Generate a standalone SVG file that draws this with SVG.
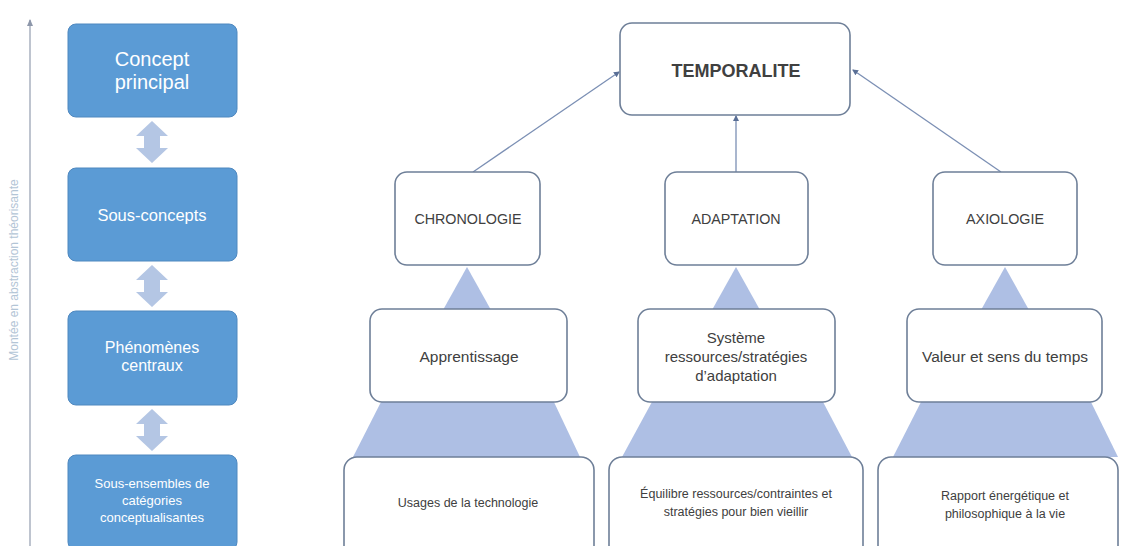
<svg xmlns="http://www.w3.org/2000/svg" width="1121" height="546" viewBox="0 0 1121 546">
<defs>
<style>
.bbox{fill:#5b9bd5;stroke:#4f88bf;stroke-width:1}
.wt{fill:#ffffff;font-family:"Liberation Sans",Arial,sans-serif;text-anchor:middle}
.node{fill:#ffffff;stroke:#6e7f98;stroke-width:1.6}
.tx{fill:#404040;font-family:"Liberation Sans",Arial,sans-serif;text-anchor:middle}
.tri{fill:#aebfe4}
.dbl{fill:#b4c6e4}
.conn{stroke:#7b8fb4;stroke-width:1.3;fill:none}
</style>
<marker id="ah" markerWidth="6" markerHeight="6" refX="5" refY="3" orient="auto" markerUnits="userSpaceOnUse">
<path d="M0,0 L6,3 L0,6 z" fill="#5a6f96"/>
</marker>
<marker id="ah2" markerWidth="8" markerHeight="8" refX="6" refY="4" orient="auto" markerUnits="userSpaceOnUse">
<path d="M0,1 L7,4 L0,7 z" fill="#8d97aa"/>
</marker>
</defs>
<rect width="1121" height="546" fill="#ffffff"/>

<g id="axis">
<line x1="30" y1="546" x2="30" y2="20" stroke="#a9b1bf" stroke-width="1.5" marker-end="url(#ah2)"/>
<text transform="translate(18,270) rotate(-90)" font-family="Liberation Sans,Arial,sans-serif" font-size="12" fill="#b3c5d6" text-anchor="middle">Montée en abstraction théorisante</text>
</g>

<g id="legend-arrows">
<path class="dbl" d="M152,121 L168,136 L160,136 L160,148 L168,148 L152,163 L136,148 L144,148 L144,136 L136,136 z"/>
<path class="dbl" d="M152,265 L168,280 L160,280 L160,292 L168,292 L152,307 L136,292 L144,292 L144,280 L136,280 z"/>
<path class="dbl" d="M152,409 L168,424 L160,424 L160,436 L168,436 L152,451 L136,436 L144,436 L144,424 L136,424 z"/>
</g>

<g id="concept-principal">
<rect class="bbox" x="68" y="24" width="169" height="93" rx="8"/>
<text class="wt" x="152" y="66" font-size="20">Concept</text>
<text class="wt" x="152" y="89" font-size="20">principal</text>
</g>
<g id="sous-concepts">
<rect class="bbox" x="68" y="168" width="169" height="93" rx="8"/>
<text class="wt" x="152" y="221" font-size="16.5">Sous-concepts</text>
</g>
<g id="phenomenes">
<rect class="bbox" x="68" y="311" width="169" height="94" rx="8"/>
<text class="wt" x="152" y="353" font-size="16">Phénomènes</text>
<text class="wt" x="152" y="371" font-size="16">centraux</text>
</g>
<g id="sous-ensembles">
<rect class="bbox" x="68" y="455" width="169" height="95" rx="8"/>
<text class="wt" x="152" y="488" font-size="13">Sous-ensembles de</text>
<text class="wt" x="152" y="505" font-size="13">catégories</text>
<text class="wt" x="152" y="522" font-size="13">conceptualisantes</text>
</g>

<g id="triangles">
<polygon class="tri" points="467,267 491,310 443,310"/>
<polygon class="tri" points="736,267 760,310 712,310"/>
<polygon class="tri" points="1005,267 1029,310 981,310"/>
<polygon class="tri" points="382,400 553,400 580,457 353,457"/>
<polygon class="tri" points="653,400 822,400 852,457 622,457"/>
<polygon class="tri" points="922,400 1090,400 1118,457 893,457"/>
</g>

<g id="connectors">
<line class="conn" x1="473" y1="172" x2="619" y2="72" marker-end="url(#ah)"/>
<line class="conn" x1="736" y1="172" x2="736" y2="116" marker-end="url(#ah)"/>
<line class="conn" x1="1001" y1="172" x2="853" y2="70" marker-end="url(#ah)"/>
</g>

<g id="temporalite">
<rect class="node" x="620" y="23" width="230" height="92" rx="12"/>
<text class="tx" x="736" y="77" font-size="18" font-weight="bold" fill="#222">TEMPORALITE</text>
</g>
<g id="chronologie">
<rect class="node" x="395" y="172" width="145" height="93" rx="12"/>
<text class="tx" x="468" y="224" font-size="14.3">CHRONOLOGIE</text>
</g>
<g id="adaptation">
<rect class="node" x="665" y="172" width="143" height="93" rx="12"/>
<text class="tx" x="736" y="224" font-size="14.3">ADAPTATION</text>
</g>
<g id="axiologie">
<rect class="node" x="933" y="172" width="144" height="93" rx="12"/>
<text class="tx" x="1005" y="224" font-size="14.3">AXIOLOGIE</text>
</g>

<g id="apprentissage">
<rect class="node" x="370" y="309" width="197" height="93" rx="12"/>
<text class="tx" x="469" y="362" font-size="15.5">Apprentissage</text>
</g>
<g id="systeme">
<rect class="node" x="638" y="309" width="197" height="93" rx="12"/>
<text class="tx" x="736" y="343" font-size="15">Système</text>
<text class="tx" x="736" y="362" font-size="15">ressources/stratégies</text>
<text class="tx" x="736" y="381" font-size="15">d’adaptation</text>
</g>
<g id="valeur">
<rect class="node" x="907" y="309" width="195" height="93" rx="12"/>
<text class="tx" x="1005" y="362" font-size="15.5">Valeur et sens du temps</text>
</g>

<g id="usages">
<rect class="node" x="344" y="457" width="250" height="110" rx="13"/>
<text class="tx" x="468" y="507" font-size="12.5">Usages de la technologie</text>
</g>
<g id="equilibre">
<rect class="node" x="609" y="457" width="254" height="110" rx="13"/>
<text class="tx" x="736" y="498" font-size="12.5">Équilibre ressources/contraintes et</text>
<text class="tx" x="736" y="516" font-size="12.5">stratégies pour bien vieillir</text>
</g>
<g id="rapport">
<rect class="node" x="878" y="457" width="240" height="110" rx="13"/>
<text class="tx" x="1005" y="500" font-size="12.5">Rapport énergétique et</text>
<text class="tx" x="1005" y="518" font-size="12.5">philosophique à la vie</text>
</g>
</svg>
